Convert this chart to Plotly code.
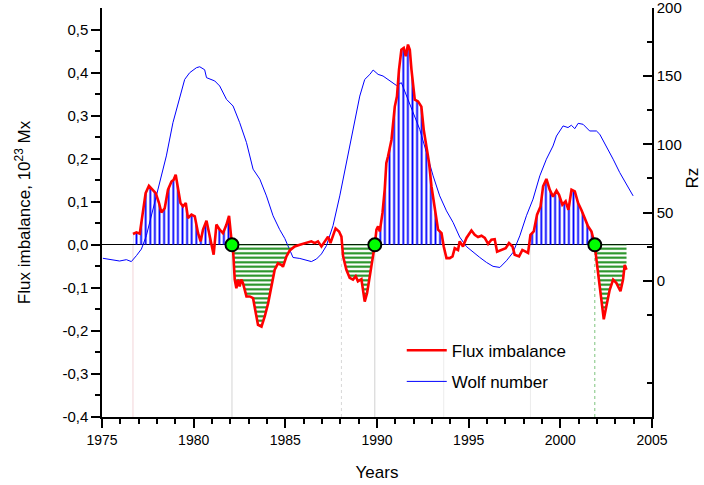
import numpy as np
import plotly.graph_objects as go

# ---------------- data ----------------
flux_years = [1976.69, 1976.88, 1977.06, 1977.15, 1977.24, 1977.38, 1977.56, 1977.75, 1977.93, 1978.11,
              1978.24, 1978.42, 1978.60, 1978.79, 1978.91, 1979.02, 1979.15, 1979.28, 1979.42, 1979.57,
              1979.69, 1979.88, 1980.06, 1980.24, 1980.38, 1980.51, 1980.70, 1980.88, 1981.02, 1981.09,
              1981.24, 1981.42, 1981.60, 1981.79, 1981.93, 1982.00, 1982.09, 1982.15, 1982.24, 1982.33,
              1982.42, 1982.51, 1982.60, 1982.69, 1982.88, 1983.06, 1983.24, 1983.39, 1983.51, 1983.70,
              1983.88, 1984.06, 1984.24, 1984.42, 1984.60, 1984.79, 1984.87, 1985.06, 1985.24, 1985.51,
              1985.79, 1986.15, 1986.42, 1986.60, 1986.78, 1986.97, 1987.15, 1987.33, 1987.46, 1987.60,
              1987.74, 1987.93, 1988.06, 1988.15, 1988.33, 1988.51, 1988.69, 1988.84, 1988.96, 1989.15,
              1989.33, 1989.46, 1989.60, 1989.79, 1989.88, 1989.97, 1990.06, 1990.15, 1990.30, 1990.42,
              1990.51, 1990.60, 1990.79, 1990.97, 1991.09, 1991.20, 1991.33, 1991.46, 1991.57, 1991.69,
              1991.79, 1991.88, 1992.06, 1992.24, 1992.42, 1992.55, 1992.70, 1992.84, 1992.97, 1993.15,
              1993.33, 1993.52, 1993.64, 1993.79, 1993.97, 1994.12, 1994.24, 1994.42, 1994.51, 1994.69,
              1994.88, 1995.15, 1995.33, 1995.51, 1995.70, 1995.88, 1996.06, 1996.24, 1996.42, 1996.55,
              1996.79, 1997.02, 1997.20, 1997.39, 1997.51, 1997.75, 1997.93, 1998.11, 1998.24, 1998.37,
              1998.55, 1998.73, 1998.92, 1999.06, 1999.24, 1999.42, 1999.60, 1999.79, 1999.93, 2000.11,
              2000.29, 2000.44, 2000.61, 2000.79, 2000.97, 2001.15, 2001.33, 2001.51, 2001.70, 2001.82,
              2001.88, 2001.97, 2002.11, 2002.24, 2002.37, 2002.51, 2002.69, 2002.88, 2003.06, 2003.28,
              2003.42, 2003.51, 2003.61]
flux_values = [0.025, 0.029, 0.026, 0.050, 0.074, 0.120, 0.137, 0.128, 0.120, 0.097,
               0.075, 0.085, 0.128, 0.147, 0.151, 0.163, 0.128, 0.097, 0.089, 0.097,
               0.062, 0.070, 0.066, 0.027, 0.008, 0.035, 0.056, 0.019, -0.004, -0.023,
               0.047, 0.035, 0.027, 0.047, 0.067, 0.035, 0.000, -0.012, -0.081, -0.101,
               -0.081, -0.097, -0.081, -0.089, -0.120, -0.120, -0.124, -0.159, -0.186, -0.190,
               -0.166, -0.136, -0.097, -0.058, -0.043, -0.047, -0.051, -0.027, -0.013, -0.004,
               0.000, 0.004, 0.008, 0.004, 0.008, -0.004, 0.008, 0.019, 0.004, 0.023,
               0.038, 0.031, 0.019, -0.027, -0.058, -0.077, -0.081, -0.073, -0.085, -0.080,
               -0.132, -0.112, -0.073, -0.027, 0.000, 0.035, 0.043, 0.031, 0.074, 0.128,
               0.190, 0.205, 0.244, 0.321, 0.345, 0.407, 0.453, 0.457, 0.438, 0.465,
               0.453, 0.407, 0.337, 0.333, 0.321, 0.267, 0.229, 0.190, 0.136, 0.089,
               0.035, 0.027, -0.004, -0.031, -0.031, -0.027, -0.008, -0.012, 0.008, -0.004,
               0.016, 0.033, 0.023, 0.018, 0.021, 0.016, 0.002, 0.012, 0.013, -0.016,
               -0.012, -0.008, 0.004, -0.004, -0.023, -0.027, -0.012, -0.016, -0.019, 0.023,
               0.031, 0.070, 0.089, 0.136, 0.153, 0.128, 0.112, 0.126, 0.116, 0.093,
               0.101, 0.081, 0.128, 0.124, 0.097, 0.081, 0.062, 0.043, 0.031, 0.012,
               0.000, -0.035, -0.081, -0.128, -0.173, -0.143, -0.105, -0.081, -0.089, -0.108,
               -0.081, -0.047, -0.058]

wolf_years = [1975.05, 1975.42, 1975.96, 1976.33, 1976.60, 1976.88, 1977.15, 1977.42, 1977.78, 1978.15,
              1978.51, 1978.87, 1979.24, 1979.51, 1979.78, 1980.15, 1980.33, 1980.60, 1980.70, 1981.15,
              1981.42, 1981.79, 1982.15, 1982.51, 1982.88, 1983.24, 1983.61, 1983.97, 1984.33, 1984.69,
              1984.97, 1985.24, 1985.42, 1985.79, 1986.15, 1986.42, 1986.70, 1986.97, 1987.24, 1987.60,
              1987.97, 1988.33, 1988.69, 1989.06, 1989.33, 1989.61, 1989.79, 1990.06, 1990.33, 1990.70,
              1991.06, 1991.33, 1991.61, 1991.97, 1992.33, 1992.70, 1993.06, 1993.42, 1993.79, 1994.15,
              1994.51, 1994.88, 1995.24, 1995.60, 1995.97, 1996.33, 1996.70, 1997.06, 1997.42, 1997.79,
              1998.15, 1998.51, 1998.88, 1999.24, 1999.60, 1999.79, 2000.15, 2000.42, 2000.60, 2000.79,
              2000.97, 2001.24, 2001.60, 2001.97, 2002.15, 2002.51, 2002.88, 2003.24, 2003.61, 2003.97]
wolf_values = [16.4, 15.4, 14.4, 15.4, 14.0, 18.4, 23.2, 33.0, 52.5, 72.0,
               91.5, 115.9, 135.4, 147.6, 152.5, 156.2, 156.9, 154.7, 148.9, 146.5,
               142.8, 133.0, 128.1, 115.9, 101.3, 81.8, 74.4, 62.2, 47.6, 37.5,
               31.0, 22.0, 17.0, 16.3, 15.2, 14.0, 15.9, 19.6, 25.6, 40.3,
               62.2, 86.6, 108.6, 135.4, 147.6, 151.3, 154.5, 151.3, 150.1, 146.4,
               143.2, 145.2, 135.4, 123.2, 111.0, 93.9, 76.9, 62.2, 51.2, 42.7,
               32.0, 25.0, 20.7, 17.1, 13.4, 10.5, 9.7, 14.6, 20.7, 32.9,
               47.6, 59.8, 76.9, 89.1, 98.8, 106.1, 113.5, 112.3, 114.0, 111.5,
               115.4, 114.7, 109.8, 109.8, 107.4, 98.8, 89.1, 79.3, 70.8, 62.2]

# hatched intervals (start year, end year)
positive_intervals = [(1976.69, 1982.09), (1989.88, 1993.64), (1998.37, 2001.88)]
negative_intervals = [(1982.09, 1985.51), (1988.06, 1989.88), (2001.88, 2003.61)]
# zero-crossing markers
crossing_years = [1982.09, 1989.88, 2001.88]
crossing_values = [0.0, 0.0, 0.0]
# faint guide lines
guide_years = [1976.69, 1982.09, 1988.06, 1989.88, 1993.64, 1998.37, 2001.88]
guide_colors = ["#f2d4d8", "#d4d4d4", "#d8d8d8", "#d0d0d0", "#ececec", "#ececec", "#7cc47c"]
guide_dash = ["solid", "solid", "dot", "solid", "solid", "solid", "dot"]

# tick labels
flux_tickvals = [-0.4, -0.3, -0.2, -0.1, 0.0, 0.1, 0.2, 0.3, 0.4, 0.5]
flux_ticktext = ["-0,4", "-0,3", "-0,2", "-0,1", "0,0", "0,1", "0,2", "0,3", "0,4", "0,5"]
flux_minor = [-0.35, -0.25, -0.15, -0.05, 0.05, 0.15, 0.25, 0.35, 0.45]
rz_tickvals = [0, 50, 100, 150, 200]
rz_ticktext = ["0", "50", "100", "150", "200"]
rz_unlabeled = [-100, -50]
rz_minor = [-75, -25, 25, 75, 125, 175]
year_tickvals = [1975, 1980, 1985, 1990, 1995, 2000, 2005]

# ---------------- figure ----------------
fx = np.array(flux_years)
fv = np.array(flux_values)

fig = go.Figure()

# Wolf number on primary (right) axis
fig.add_trace(go.Scatter(x=wolf_years, y=wolf_values, mode="lines", name="Wolf number",
                         line=dict(color="#0000ff", width=1), yaxis="y", legendrank=2,
                         legendgroup="b"))

# hatched areas on flux axis
for lo, hi in positive_intervals:
    m = (fx >= lo - 1e-9) & (fx <= hi + 1e-9)
    fig.add_trace(go.Scatter(x=fx[m], y=fv[m], mode="lines", yaxis="y2", fill="tozeroy",
                             line=dict(width=0, color="rgba(0,0,0,0)"),
                             fillcolor="rgba(0,0,0,0)",
                             fillpattern=dict(shape="|", size=4.6, solidity=0.4, fgopacity=1,
                                              fgcolor="#0000ff", bgcolor="rgba(255,255,255,0)"),
                             showlegend=False, hoverinfo="skip"))
for lo, hi in negative_intervals:
    m = (fx >= lo - 1e-9) & (fx <= hi + 1e-9)
    fig.add_trace(go.Scatter(x=fx[m], y=fv[m], mode="lines", yaxis="y2", fill="tozeroy",
                             line=dict(width=0, color="rgba(0,0,0,0)"),
                             fillcolor="rgba(0,0,0,0)",
                             fillpattern=dict(shape="-", size=4.5, solidity=0.45, fgopacity=1,
                                              fgcolor="#158a15", bgcolor="rgba(255,255,255,0)"),
                             showlegend=False, hoverinfo="skip"))

# flux imbalance line
fig.add_trace(go.Scatter(x=flux_years, y=flux_values, mode="lines", name="Flux imbalance",
                         line=dict(color="#ff0000", width=2.6), yaxis="y2", legendrank=1,
                         legendgroup="a"))

# zero-crossing markers
fig.add_trace(go.Scatter(x=crossing_years, y=crossing_values, mode="markers", yaxis="y2",
                         marker=dict(size=13, color="#00ff00", line=dict(color="black", width=2)),
                         showlegend=False, hoverinfo="skip"))

shapes = []
for gx, gc, gd in zip(guide_years, guide_colors, guide_dash):
    shapes.append(dict(type="line", xref="x", yref="y2", x0=gx, x1=gx, y0=-0.4, y1=0,
                       line=dict(color=gc, width=1, dash=gd), layer="below"))

font_family = "Liberation Sans, Arial, sans-serif"
fig.update_layout(
    width=704, height=485,
    margin=dict(l=102, r=52, t=8, b=68, autoexpand=False),
    paper_bgcolor="white", plot_bgcolor="white",
    font=dict(family=font_family, size=14, color="black"),
    showlegend=True,
    legend=dict(x=0.545, y=0.206, xanchor="left", yanchor="top",
                font=dict(size=17), bgcolor="rgba(0,0,0,0)",
                tracegroupgap=6, itemwidth=40, traceorder="grouped"),
    shapes=shapes,
    xaxis=dict(range=[1975, 2005], tickmode="array", tickvals=year_tickvals,
               ticks="outside", ticklen=9, tickwidth=1.5, tickcolor="black",
               minor=dict(tickmode="linear", tick0=1975, dtick=1, ticks="outside", ticklen=5,
                          tickwidth=1.5, tickcolor="black"),
               showline=True, linecolor="black", linewidth=1.5, showgrid=False, zeroline=False,
               tickfont=dict(size=14), automargin=False,
               title=dict(text="Years", font=dict(size=17), standoff=20)),
    yaxis=dict(range=[-100, 200], side="right", tickmode="array", tickvals=rz_tickvals,
               ticktext=rz_ticktext, ticks="inside", ticklen=9, tickwidth=1.5, tickcolor="black",
               minor=dict(tickmode="array", tickvals=rz_minor, ticks="inside", ticklen=5,
                          tickwidth=1.5, tickcolor="black"),
               showline=True, linecolor="black", linewidth=1.5, showgrid=False, zeroline=False,
               tickfont=dict(size=15), automargin=False, ticklabeloverflow="allow"),
    yaxis3=dict(range=[-100, 200], side="right", overlaying="y", anchor="x", tickmode="array",
                tickvals=rz_unlabeled, showticklabels=False, ticks="inside", ticklen=9,
                tickwidth=1.5, tickcolor="black", showline=False, showgrid=False, zeroline=False,
                automargin=False),
    yaxis2=dict(range=[-0.4, 0.55], overlaying="y", side="left", tickmode="array",
                tickvals=flux_tickvals, ticktext=flux_ticktext,
                ticks="outside", ticklen=9, tickwidth=1.5, tickcolor="black",
                minor=dict(tickmode="array", tickvals=flux_minor, ticks="outside", ticklen=5,
                           tickwidth=1.5, tickcolor="black"),
                showline=True, linecolor="black", linewidth=1.5, showgrid=False,
                zeroline=True, zerolinecolor="black", zerolinewidth=1.3,
                tickfont=dict(size=15), automargin=False, ticklabeloverflow="allow",
                title=dict(text="Flux imbalance, 10<sup>23</sup> Mx", font=dict(size=17), standoff=27)),
    annotations=[dict(text="Rz", xref="paper", yref="paper", x=1.095, y=0.585,
                      textangle=-90, showarrow=False, font=dict(size=17))],
)

fig.write_html("out.html", config={"displayModeBar": False},
               post_script="document.body.style.margin='0';")
